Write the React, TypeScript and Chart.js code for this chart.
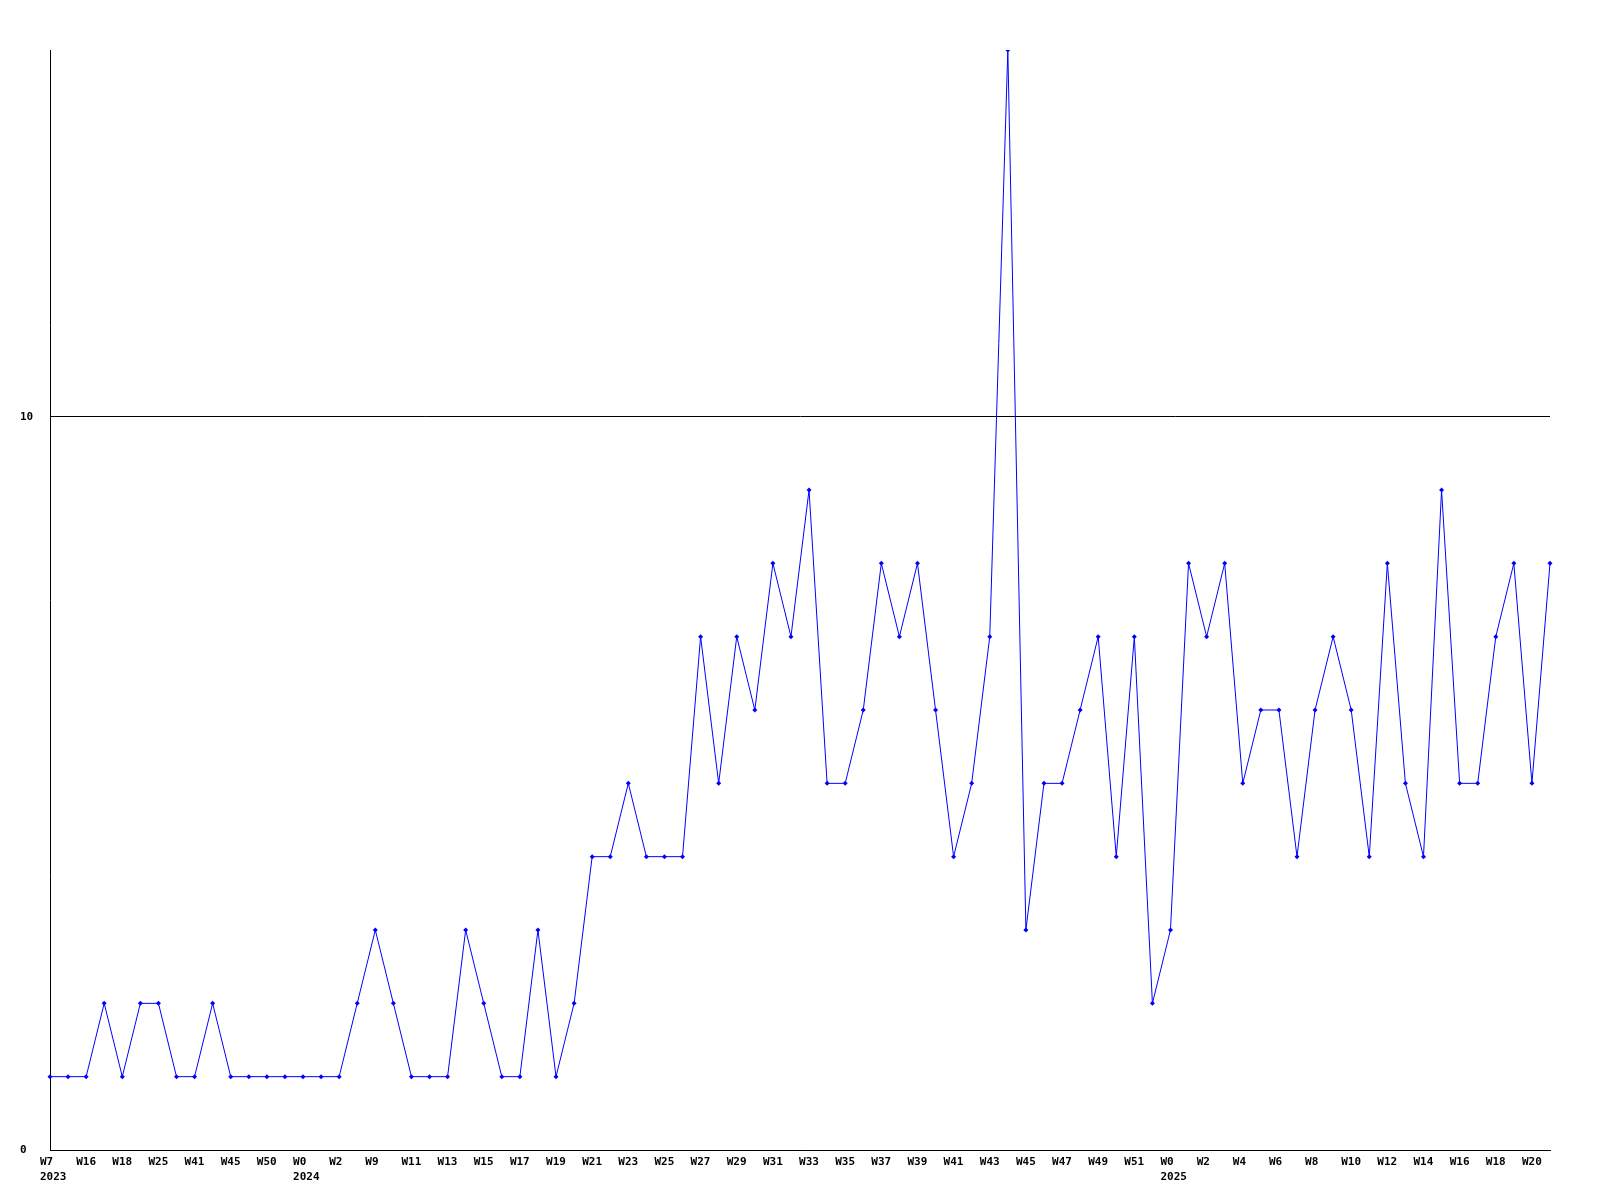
import React, { useEffect, useRef } from "react";
import { Chart, registerables } from "chart.js";

Chart.register(...registerables);

const weeks2023 = ["W7", "W8", "W16", "W17", "W18", "W24", "W25", "W26", "W41", "W42", "W45", "W46", "W50", "W51"];
const weeks2024 = [
  "W0", "W1", "W2", "W8", "W9", "W10", "W11", "W12", "W13", "W14", "W15", "W16", "W17", "W18", "W19", "W20",
  "W21", "W22", "W23", "W24", "W25", "W26", "W27", "W28", "W29", "W30", "W31", "W32", "W33", "W34", "W35", "W36",
  "W37", "W38", "W39", "W40", "W41", "W42", "W43", "W44", "W45", "W46", "W47", "W48", "W49", "W50", "W51", "W52",
];
const weeks2025 = [
  "W0", "W1", "W2", "W3", "W4", "W5", "W6", "W7", "W8", "W9", "W10", "W11", "W12", "W13", "W14", "W15",
  "W16", "W17", "W18", "W19", "W20", "W21",
];
const years = ["2023", "2024", "2025"];

const values = [
  1, 1, 1, 2, 1, 2, 2, 1, 1, 2, 1, 1, 1, 1,
  1, 1, 1, 2, 3, 2, 1, 1, 1, 3, 2, 1, 1, 3, 1, 2,
  4, 4, 5, 4, 4, 4, 7, 5, 7, 6, 8, 7, 9, 5, 5, 6,
  8, 7, 8, 6, 4, 5, 7, 15, 3, 5, 5, 6, 7, 4, 7, 2,
  3, 8, 7, 8, 5, 6, 6, 4, 6, 7, 6, 4, 8, 5, 4, 9,
  5, 5, 7, 8, 5, 8,
];

const yTicks = [0, 10];

export default function App() {
  const ref = useRef<HTMLCanvasElement | null>(null);

  useEffect(() => {
    if (!ref.current) return;
    const weekLabels = [...weeks2023, ...weeks2024, ...weeks2025];
    const yearStart: Record<number, string> = {
      0: years[0],
      [weeks2023.length]: years[1],
      [weeks2023.length + weeks2024.length]: years[2],
    };
    const font = { family: "'DejaVu Sans Mono', monospace", size: 11, weight: "bold" as const, lineHeight: "15px" };
    const chart = new Chart(ref.current, {
      type: "line",
      data: {
        labels: weekLabels,
        datasets: [
          {
            data: values,
            borderColor: "#0000ff",
            backgroundColor: "#0000ff",
            borderWidth: 1,
            pointStyle: "rectRot",
            pointRadius: 2.5,
            pointBorderWidth: 0,
            tension: 0,
          },
        ],
      },
      options: {
        responsive: false,
        animation: false,
        layout: { padding: { left: 20, right: 50, top: 50, bottom: 0 } },
        plugins: { legend: { display: false }, tooltip: { enabled: false } },
        scales: {
          x: {
            type: "category",
            offset: false,
            grid: { display: false, drawTicks: false },
            border: { display: true, color: "#000000", width: 1 },
            ticks: {
              autoSkip: false,
              maxRotation: 0,
              minRotation: 0,
              padding: 5,
              align: "start",
              labelOffset: -10,
              color: "#000000",
              font,
              callback: (_v: any, i: number) => {
                if (i % 2 !== 0) return "";
                const w = weekLabels[i];
                return yearStart[i] !== undefined ? [w, yearStart[i]] : w;
              },
            },
            afterFit: (s: any) => {
              s.height = 50;
            },
          },
          y: {
            min: 0,
            max: 15,
            grid: { display: true, color: "#000000", lineWidth: 1, drawTicks: false },
            border: { display: true, color: "#000000", width: 1 },
            ticks: {
              crossAlign: "far",
              padding: 4,
              color: "#000000",
              font,
            },
            afterBuildTicks: (s: any) => {
              s.ticks = yTicks.map((v) => ({ value: v }));
            },
            afterFit: (s: any) => {
              s.width = 30;
            },
          },
        },
      },
    });
    return () => chart.destroy();
  }, []);

  return (
    <div style={{ position: "absolute", left: 0, top: 0, width: 1600, height: 1200, background: "#ffffff" }}>
      <canvas ref={ref} width={1600} height={1200} />
    </div>
  );
}
